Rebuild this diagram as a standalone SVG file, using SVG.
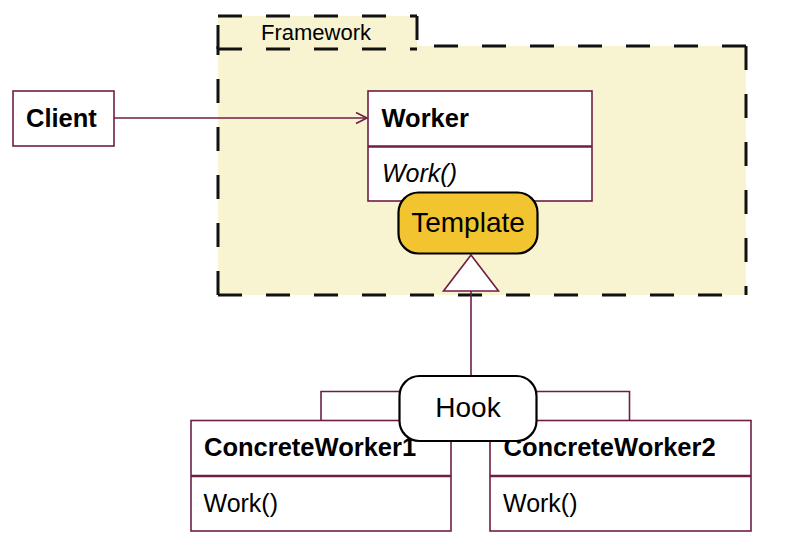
<svg xmlns="http://www.w3.org/2000/svg" width="788" height="539" viewBox="0 0 788 539">
  <defs>
    <style>
      .cls { fill: #ffffff; stroke: #6e1e45; stroke-width: 1.6; }
      .conn { fill: none; stroke: #6e1e45; stroke-width: 1.6; }
      .dash { fill: none; stroke: #111111; stroke-width: 3; stroke-dasharray: 24 24; }
      .title { font-family: "Liberation Sans", Arial, sans-serif; font-weight: bold; font-size: 25.5px; fill: #000; }
      .op { font-family: "Liberation Sans", Arial, sans-serif; font-size: 25px; fill: #000; }
      .note { font-family: "Liberation Sans", Arial, sans-serif; font-size: 28px; fill: #000; }
      .pill { stroke: #000; stroke-width: 2.2; }
    </style>
    <marker id="openArrow" markerWidth="14" markerHeight="14" refX="12" refY="6" orient="auto" markerUnits="userSpaceOnUse">
      <path d="M1,0.5 L12,6 L1,11.5" fill="none" stroke="#6e1e45" stroke-width="1.6"/>
    </marker>
  </defs>

  <g id="framework">
    <rect x="218" y="46" width="528" height="249" fill="#f8f3d0"/>
    <path class="dash" d="M218,295 H746"/>
    <path class="dash" d="M218,295 V46"/>
    <path class="dash" d="M746,46 H417"/>
    <path class="dash" d="M746,46 V295"/>
    <rect x="218" y="16" width="199" height="33" fill="#f8f3d0"/>
    <path class="dash" d="M218,16 H417"/>
    <path class="dash" d="M417,16 V49"/>
    <path class="dash" d="M218,49 H417"/>
    <path class="dash" d="M218,49 V16"/>
    <text x="261" y="39.5" font-family="Liberation Sans, Arial, sans-serif" font-size="22" fill="#000">Framework</text>
  </g>

  <g id="client">
    <rect class="cls" x="13" y="91" width="101" height="55"/>
    <text class="title" x="26" y="127">Client</text>
  </g>

  <g id="worker">
    <rect class="cls" x="368" y="91" width="224" height="110"/>
    <line x1="368" y1="146.5" x2="592" y2="146.5" stroke="#6e1e45" stroke-width="2.6"/>
    <text class="title" x="381.5" y="127">Worker</text>
    <text class="op" x="382" y="182" font-style="italic">Work()</text>
  </g>

  <g id="connectors">
    <line class="conn" x1="114" y1="118" x2="367" y2="118" marker-end="url(#openArrow)"/>
    <polyline class="conn" points="321,420.5 321,391.5 629.5,391.5 629.5,420.5"/>
    <line class="conn" x1="471" y1="291" x2="471" y2="377"/>
    <polygon points="471,255 443.5,291 498.5,291" fill="#ffffff" stroke="#6e1e45" stroke-width="1.6"/>
  </g>

  <g id="template">
    <rect class="pill" x="398.5" y="192.5" width="139" height="61" rx="20" ry="20" fill="#f2c530"/>
    <text class="note" x="468" y="231.5" text-anchor="middle">Template</text>
  </g>

  <g id="concreteWorker1">
    <rect class="cls" x="191" y="420.5" width="260" height="110.5"/>
    <line x1="191" y1="476" x2="451" y2="476" stroke="#6e1e45" stroke-width="2.6"/>
    <text class="title" x="204" y="456">ConcreteWorker1</text>
    <text class="op" x="203.5" y="511.5">Work()</text>
  </g>

  <g id="concreteWorker2">
    <rect class="cls" x="490" y="420.5" width="261" height="110.5"/>
    <line x1="490" y1="476" x2="751" y2="476" stroke="#6e1e45" stroke-width="2.6"/>
    <text class="title" x="503.5" y="456">ConcreteWorker2</text>
    <text class="op" x="503" y="511.5">Work()</text>
  </g>

  <g id="hook">
    <rect class="pill" x="399.5" y="376" width="137" height="65" rx="20" ry="20" fill="#ffffff"/>
    <text class="note" x="468" y="417" text-anchor="middle">Hook</text>
  </g>
</svg>
